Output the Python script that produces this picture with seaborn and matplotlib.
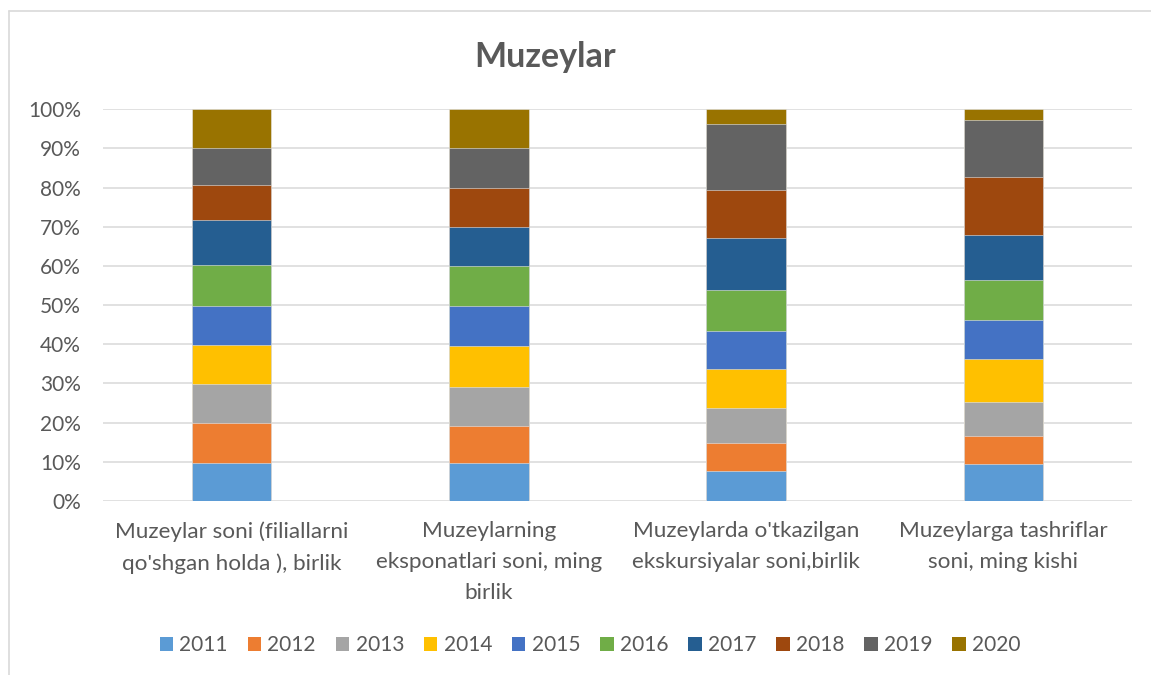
import matplotlib
matplotlib.use("Agg")
import matplotlib.pyplot as plt
import seaborn as sns
import numpy as np
import pandas as pd
from matplotlib.patches import Patch
from matplotlib.lines import Line2D

categories = [
    "Muzeylar soni (filiallarni\nqo'shgan holda ), birlik",
    "Muzeylarning\neksponatlari soni, ming\nbirlik",
    "Muzeylarda o'tkazilgan\nekskursiyalar soni,birlik",
    "Muzeylarga tashriflar\nsoni, ming kishi",
]
years = ["2011", "2012", "2013", "2014", "2015", "2016", "2017", "2018", "2019", "2020"]

# approximate shares (%), per year across the 4 categories
v2011 = [9.7, 9.6, 7.7, 9.4]
v2012 = [10.1, 9.6, 7.0, 7.2]
v2013 = [10.0, 10.0, 9.0, 8.6]
v2014 = [10.1, 10.3, 10.0, 11.1]
v2015 = [10.0, 10.2, 9.6, 10.0]
v2016 = [10.3, 10.3, 10.6, 10.0]
v2017 = [11.5, 10.0, 13.3, 11.7]
v2018 = [9.1, 10.0, 12.2, 14.8]
v2019 = [9.4, 10.0, 16.8, 14.4]
v2020 = [9.8, 10.0, 3.8, 2.8]

colors = ["#5B9BD5", "#ED7D31", "#A5A5A5", "#FFC000", "#4472C4",
          "#70AD47", "#255E91", "#9E480E", "#636363", "#997300"]

series = [v2011, v2012, v2013, v2014, v2015, v2016, v2017, v2018, v2019, v2020]
vals = np.array(series, dtype=float)
shares = vals / vals.sum(axis=0) * 100.0
cum = np.cumsum(shares, axis=0)

sns.set_theme(style="white")
plt.rcParams['font.family'] = ['Lato', 'DejaVu Sans']
txt = "#595959"

fig = plt.figure(figsize=(11.51, 6.75), dpi=100)
ax = fig.add_axes([103/1151, 1-501/675, (1132-103)/1151, (501-109.3)/675])

# draw from the top cumulative level down so that each layer appears stacked
for i in range(len(years) - 1, -1, -1):
    df = pd.DataFrame({"cat": categories, "val": cum[i]})
    sns.barplot(data=df, x="cat", y="val", color=colors[i], width=0.31,
                saturation=1, ax=ax, edgecolor="#E8E8E8", linewidth=0.4, zorder=3)

ax.set_ylim(0, 100)
ax.set_xlim(-0.5, 3.5)
ax.set_yticks(np.arange(0, 101, 10))
ax.set_yticklabels([f"{t}%" for t in range(0, 101, 10)], fontsize=15, color=txt)
ax.set_xticklabels(categories, fontsize=16.2, color=txt, linespacing=1.68)
ax.set_xlabel("")
ax.set_ylabel("")
ax.yaxis.grid(True, color="#D9D9D9", linewidth=1.1, zorder=0)
ax.xaxis.grid(False)
for s in ax.spines.values():
    s.set_visible(False)
ax.tick_params(axis="both", length=0)
ax.tick_params(axis="y", pad=16)
ax.tick_params(axis="x", pad=14.5)
for lab in ax.get_xticklabels():
    lab.set_verticalalignment("top")
    lab.set_horizontalalignment("center")

fig.text(545/1151, 1-57/675, "Muzeylar", ha="center", va="center",
         fontsize=24.5, fontweight="bold", color=txt)

handles = [Patch(facecolor=c, edgecolor="none") for c in colors]
fig.legend(handles, years, loc="center", bbox_to_anchor=(590/1151, 1-645/675),
           ncol=10, frameon=False, fontsize=15, labelcolor=txt,
           handlelength=0.65, handleheight=0.65, handletextpad=0.3, columnspacing=0.95)

# chart area border (top and left visible)
fig.add_artist(Line2D([9/1151, 1], [1-10.5/675, 1-10.5/675], color="#D9D9D9", lw=1.2,
                      transform=fig.transFigure))
fig.add_artist(Line2D([9/1151, 9/1151], [0, 1-10.5/675], color="#D9D9D9", lw=1.2,
                      transform=fig.transFigure))

fig.savefig("out.png", dpi=100)
